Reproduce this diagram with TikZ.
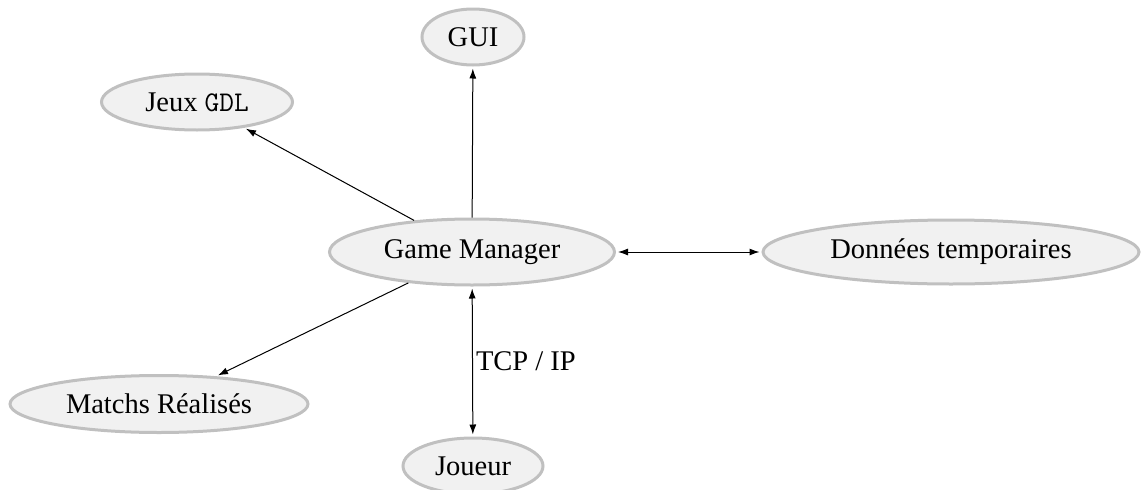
\documentclass[tikz,border=0pt]{standalone}
\usepackage{fontspec}
\setmainfont{Liberation Serif}
\usepackage{tikz}
\usetikzlibrary{shapes.geometric,arrows.meta}
\definecolor{nodefill}{RGB}{241,241,241}
\definecolor{nodeline}{RGB}{192,192,192}
\tikzset{
    state/.style={ellipse,draw=nodeline,fill=nodefill,line width=3pt,inner sep=0pt},
    link/.style={black,line width=1pt,-{Latex[length=10pt,width=7pt]},shorten >=2pt},
    duallink/.style={link,{Latex[length=10pt,width=7pt]}-{Latex[length=10pt,width=7pt]},shorten <=2pt}
}

\begin{document}
\begin{tikzpicture}[x=1pt,y=-1pt,font=\fontsize{28.5}{32}\selectfont]
\useasboundingbox (0,0) rectangle (1141,490);
\node[state,minimum width=102pt,minimum height=56pt] (gui) at (473,37) {GUI};
\node[state,minimum width=191pt,minimum height=56pt] (jeux) at (197,102) {Jeux \texttt{GDL}};
\node[state,minimum width=285pt,minimum height=66pt] (gm) at (472,252) {Game Manager};
\node[state,minimum width=376pt,minimum height=64pt] (tmp) at (951,252) {Données temporaires};
\node[state,minimum width=298pt,minimum height=57pt] (matchs) at (159,404) {Matchs Réalisés};
\node[state,minimum width=140pt,minimum height=56pt] (joueur) at (473,466) {Joueur};
\draw[link] (gm)--(gui);
\draw[link] (gm)--(jeux);
\draw[link] (gm)--(matchs);
\draw[duallink] (gm)--(tmp);
\draw[duallink] (gm)--(joueur)node[right,midway,inner sep=3pt]{TCP / IP};
\end{tikzpicture}
\end{document}
